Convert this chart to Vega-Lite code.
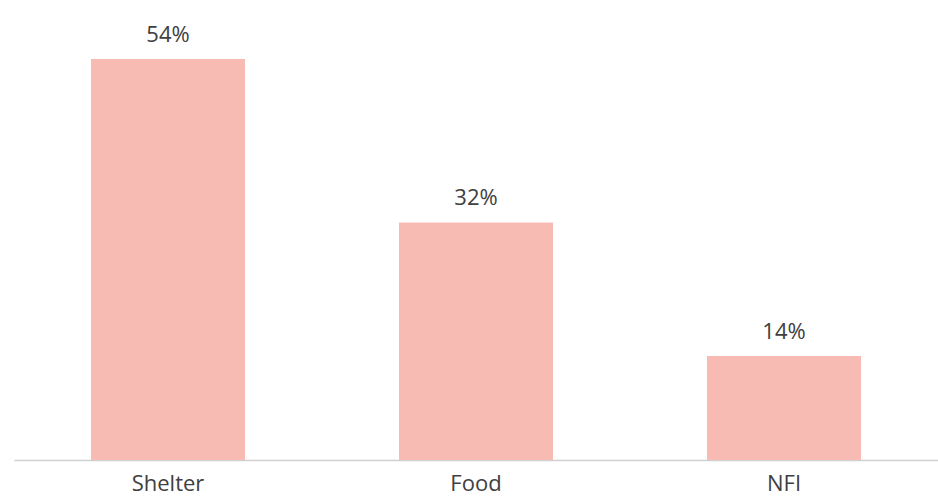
{
  "$schema": "https://vega.github.io/schema/vega-lite/v6.json",
  "autosize": "none",
  "padding": {"left": 14, "top": 14.5, "right": 0, "bottom": 37},
  "width": 924,
  "height": 445.5,
  "background": "white",
  "config": {"view": {"stroke": null}, "font": "Open Sans"},
  "data": {"values": [
    {"category": "Shelter", "value": 0.54},
    {"category": "Food", "value": 0.32},
    {"category": "NFI", "value": 0.14}
  ]},
  "encoding": {
    "x": {"field": "category", "type": "nominal", "sort": null,
      "scale": {"paddingInner": 0.5, "paddingOuter": 0.25},
      "axis": {"title": null, "labelAngle": 0, "ticks": false, "domainColor": "#d0d0d0", "domainWidth": 1.5,
        "labelFontSize": 22, "labelColor": "#404040", "labelPadding": 13, "labelFont": "Open Sans"}},
    "y": {"field": "value", "type": "quantitative", "scale": {"domain": [0, 0.6]}, "axis": null}
  },
  "layer": [
    {"mark": {"type": "bar", "color": "#f8bbb4"}},
    {"mark": {"type": "text", "baseline": "bottom", "dy": -12, "fontSize": 22, "color": "#404040"},
     "encoding": {"text": {"field": "value", "type": "quantitative", "format": ".0%"}}}
  ]
}
